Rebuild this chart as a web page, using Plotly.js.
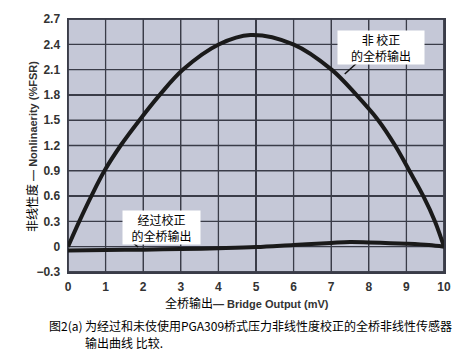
<!DOCTYPE html>
<html>
<head>
<meta charset="utf-8">
<script src="https://cdn.plot.ly/plotly-3.0.1.min.js"></script>
<style>
html,body{margin:0;padding:0;background:#fff;}
#chart{width:470px;height:360px;}
</style>
</head>
<body>
<div id="chart"></div>
<script>
// Uncorrected bridge output (非校正的全桥输出)
const xUncorrected = [0, 0.3, 0.62, 0.97, 1.4, 1.9, 2.44, 3.06, 4.02, 4.85, 5.99, 7.01, 7.67, 8.25, 8.70, 9.08, 9.45, 9.76, 10];
const yUncorrected = [0, 0.3, 0.6, 0.9, 1.2, 1.5, 1.8, 2.1, 2.4, 2.51, 2.4, 2.1, 1.8, 1.5, 1.2, 0.9, 0.6, 0.3, 0];
// Corrected bridge output (经过校正的全桥输出)
const xCorrected = [0, 1, 2, 3, 4, 5, 6, 7, 7.5, 8, 9, 9.6, 10];
const yCorrected = [-0.045, -0.04, -0.035, -0.028, -0.018, -0.005, 0.02, 0.045, 0.055, 0.05, 0.035, 0.02, 0.0];
// Axis ticks
const xTicks = [0, 1, 2, 3, 4, 5, 6, 7, 8, 9, 10];
const yTicks = [-0.3, 0, 0.3, 0.6, 0.9, 1.2, 1.5, 1.8, 2.1, 2.4, 2.7];
const yTickText = ['\u22120.3', '0', '0.3', '0.6', '0.9', '1.2', '1.5', '1.8', '2.1', '2.4', '2.7'];

const cjk = '"Noto Sans CJK SC", "Liberation Sans", sans-serif';
const lat = '"Liberation Sans", Arial, sans-serif';
const gridCol = '#3a3c48';
const bgCol = '#c5c8d7';

const traces = [
  {x: xUncorrected, y: yUncorrected, mode: 'lines', type: 'scatter',
   line: {color: '#1a1a1a', width: 4, shape: 'spline', smoothing: 1}, hoverinfo: 'skip'},
  {x: xCorrected, y: yCorrected, mode: 'lines', type: 'scatter',
   line: {color: '#1a1a1a', width: 4, shape: 'spline', smoothing: 1}, hoverinfo: 'skip'}
];

// background + grid drawn as shapes below the traces
const shapes = [
  {type: 'rect', xref: 'x domain', yref: 'y domain', x0: 0, x1: 1, y0: 0, y1: 1, layer: 'below',
   fillcolor: bgCol, line: {color: gridCol, width: 1.5}}
];
xTicks.forEach(function(v){
  shapes.push({type: 'line', xref: 'x', yref: 'y domain', x0: v, x1: v, y0: 0, y1: 1, layer: 'below',
               line: {color: gridCol, width: 1.3}});
});
yTicks.forEach(function(v){
  shapes.push({type: 'line', xref: 'x domain', yref: 'y', x0: 0, x1: 1, y0: v, y1: v, layer: 'below',
               line: {color: gridCol, width: 1.3}});
});
// leader lines of the two callouts
shapes.push({type: 'line', xref: 'x', yref: 'y', x0: 7.71, y0: 2.19, x1: 7.36, y1: 2.048,
             line: {color: '#111', width: 1.5}});
shapes.push({type: 'line', xref: 'x', yref: 'y', x0: 1.505, y0: 0.127, x1: 1.864, y1: -0.004,
             line: {color: '#111', width: 1.5}});

const layout = {
  width: 470, height: 360,
  margin: {l: 68, r: 26, t: 19, b: 88},
  paper_bgcolor: '#ffffff',
  plot_bgcolor: bgCol,
  showlegend: false,
  xaxis: {
    range: [0, 10], tickmode: 'array', tickvals: xTicks, ticktext: xTicks.map(String),
    showgrid: true, gridcolor: gridCol, gridwidth: 1.3,
    zeroline: false, showline: true, mirror: true, linecolor: gridCol, linewidth: 1.5,
    ticks: '', ticklabelstandoff: 3,
    tickfont: {family: lat, size: 12, color: '#333', weight: 'bold'}
  },
  yaxis: {
    range: [-0.3, 2.7], tickmode: 'array', tickvals: yTicks, ticktext: yTickText,
    showgrid: true, gridcolor: gridCol, gridwidth: 1.3,
    zeroline: false, showline: true, mirror: true, linecolor: gridCol, linewidth: 1.5,
    ticks: '', ticklabelstandoff: 4,
    tickfont: {family: lat, size: 12, color: '#333', weight: 'bold'}
  },
  annotations: [
    {x: 0.4767, y: -0.1225, xref: 'paper', yref: 'paper', xanchor: 'center', yanchor: 'middle', showarrow: false,
     text: '<span style="font-family:Noto Sans CJK SC;font-size:12px;color:#000">全桥输出</span><b>— Bridge Output (mV)</b>',
     font: {family: lat, size: 11, color: '#333'}},
    {x: -0.0972, y: 0.496, xref: 'paper', yref: 'paper', xanchor: 'center', yanchor: 'middle', showarrow: false,
     textangle: -90,
     text: '<span style="font-family:Noto Sans CJK SC;font-size:12px;color:#000">非线性度</span><b> — Nonlinaerity (%FSR)</b>',
     font: {family: lat, size: 11, color: '#333'}},
    {x: 8.32, y: 2.368, xref: 'x', yref: 'y', text: '非 校正<br>的全桥输出', showarrow: false,
     bgcolor: '#ffffff', width: 86, borderpad: 0, font: {family: cjk, size: 12, color: '#000'}},
    {x: 2.48, y: 0.228, xref: 'x', yref: 'y', text: '经过校正<br>的全桥输出', showarrow: false,
     bgcolor: '#ffffff', width: 77, borderpad: 0, font: {family: cjk, size: 12, color: '#000'}},
    {x: -0.0546, y: -0.21, xref: 'paper', yref: 'paper', xanchor: 'left', yanchor: 'middle',
     text: '图2(a)', showarrow: false, font: {family: cjk, size: 12, color: '#000'}},
    {x: 0.0386, y: -0.21, xref: 'paper', yref: 'paper', xanchor: 'left', yanchor: 'middle',
     text: '为经过和未伎使用PGA309桥式压力非线性度校正的全桥非线性传感器', showarrow: false,
     font: {family: cjk, size: 12, color: '#000'}},
    {x: 0.0386, y: -0.28, xref: 'paper', yref: 'paper', xanchor: 'left', yanchor: 'middle',
     text: '输出曲线 比较.', showarrow: false, font: {family: cjk, size: 12, color: '#000'}}
  ],
  shapes: shapes
};

Plotly.newPlot('chart', traces, layout, {staticPlot: true, displayModeBar: false});
</script>
</body>
</html>
